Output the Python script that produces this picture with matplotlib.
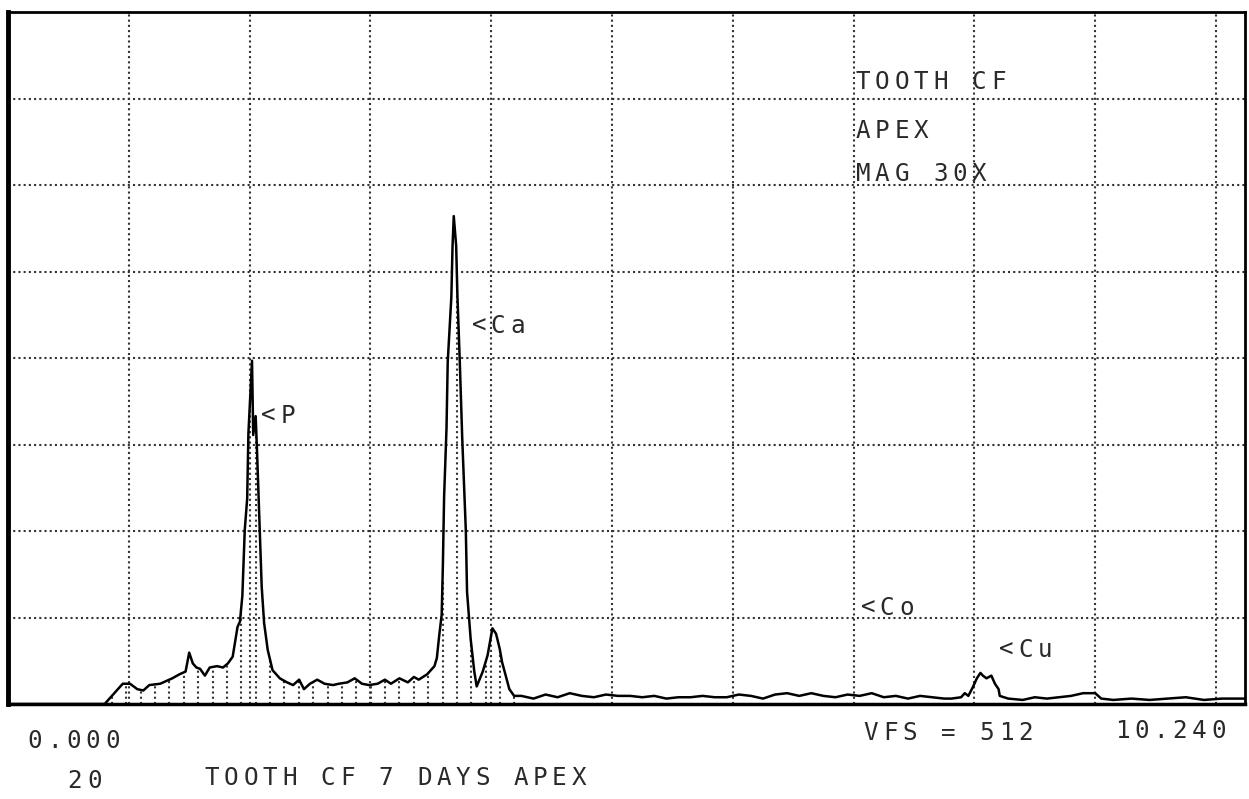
import numpy as np
import matplotlib
matplotlib.use('Agg')
import matplotlib.pyplot as plt
import matplotlib.transforms as mtransforms

# EDS spectrum (energy in keV, counts)
energy_kev = [
    0.00, 0.80, 0.82, 0.88, 0.95, 1.01, 1.07, 1.12, 1.17, 1.26, 1.31, 1.36, 1.42, 1.47,
    1.50, 1.53, 1.56, 1.59, 1.63, 1.67, 1.73, 1.78, 1.82, 1.86, 1.90, 1.92,
    1.94, 1.96, 1.98, 1.99, 2.02, 2.03, 2.05, 2.06, 2.08, 2.10, 2.12, 2.15, 2.19, 2.25,
    2.31, 2.36, 2.41, 2.45, 2.50, 2.56, 2.62, 2.69, 2.74, 2.81, 2.87, 2.93, 2.99, 3.06,
    3.12, 3.17, 3.24, 3.31, 3.36, 3.40, 3.47, 3.51,
    3.53, 3.55, 3.57, 3.59, 3.60, 3.61, 3.63, 3.64, 3.67, 3.68, 3.69, 3.71, 3.72, 3.74,
    3.76, 3.79, 3.80, 3.83, 3.86, 3.88, 3.93, 3.97, 4.01, 4.04, 4.07, 4.09, 4.12, 4.15,
    4.19, 4.25, 4.35, 4.45, 4.55, 4.65, 4.75, 4.85, 4.95, 5.05, 5.15, 5.25, 5.35, 5.45,
    5.55, 5.65, 5.75, 5.85, 5.95, 6.05, 6.15, 6.25, 6.35, 6.45, 6.55, 6.65, 6.75, 6.85,
    6.95, 7.05, 7.15, 7.25, 7.35, 7.45, 7.55, 7.65, 7.75, 7.81, 7.89, 7.92, 7.95, 7.99,
    8.02, 8.05, 8.07, 8.10, 8.14, 8.17, 8.20, 8.21, 8.28, 8.40, 8.50, 8.60, 8.70, 8.80,
    8.90, 9.00, 9.05, 9.15, 9.30, 9.45, 9.60, 9.75, 9.90, 10.05, 10.24,
]
counts = [
    0, 0, 2, 8, 15, 15, 11, 10, 14, 15, 17, 19, 22, 24,
    38, 30, 27, 26, 21, 27, 28, 27, 30, 35, 57, 61,
    80, 129, 152, 200, 254, 199, 213, 191, 139, 87, 60, 40, 25, 19,
    16, 14, 18, 11, 15, 18, 15, 14, 15, 16, 19, 15, 14, 15,
    18, 15, 19, 16, 20, 18, 22, 26,
    28, 34, 51, 66, 103, 153, 204, 253, 301, 339, 361, 339, 303, 253,
    197, 128, 83, 48, 24, 13, 24, 36, 56, 52, 41, 31, 21, 11,
    6, 6, 4, 7, 5, 8, 6, 5, 7, 6, 6, 5, 6, 4,
    5, 5, 6, 5, 5, 7, 6, 4, 7, 8, 6, 8, 6, 5,
    7, 6, 8, 5, 6, 4, 6, 5, 4, 4, 5, 8, 6, 13,
    19, 23, 21, 19, 21, 15, 11, 6, 4, 3, 5, 4, 5, 6,
    8, 8, 4, 3, 4, 3, 4, 5, 3, 4, 4,
]

# peak markers: (label, energy, counts)
peak_labels = ['<P', '<Ca', '<Co', '<Cu']
peak_x = [2.10, 3.84, 7.06, 8.21]
peak_y = [213, 280, 71, 40]

header_lines = ['TOOTH CF', 'APEX', 'MAG 30X']
header_y = [460, 424, 392]

full_scale = 512
e_max = 10.24

PITCH = 19.3  # plotter character pitch in pixels
FONT = 'DejaVu Sans Mono'
INK = '#2a2a2a'
DOTS = (0, (1, 1.5))

fig = plt.figure(figsize=(12.49, 7.99), dpi=100)
ax = fig.add_axes([8 / 1249, 95 / 799, 1237 / 1249, 692 / 799])
ax.set_xlim(0, e_max)
ax.set_ylim(0, full_scale)

# dotted grid: 1 keV by 64 counts
for gx in np.arange(1, 11):
    ax.axvline(gx, color='#333', lw=1.5, ls=DOTS, zorder=1)
for gy in np.arange(64, full_scale, 64):
    ax.axhline(gy, color='#333', lw=1.5, ls=DOTS, zorder=1)

# dotted hatching under the spectrum (region of interest)
hatch_x = np.arange(0.86, 4.22, 0.119)
hatch_h = np.interp(hatch_x, energy_kev, counts)
ax.vlines(hatch_x, 0, hatch_h, color='#333', lw=1.5, ls=DOTS, zorder=2)

ax.plot(energy_kev, counts, color='black', lw=1.8, zorder=3, clip_on=False)

ax.set_xticks([])
ax.set_yticks([])
for side, sp in ax.spines.items():
    sp.set_linewidth(2.0)
    sp.set_color('black')
ax.spines['left'].set_linewidth(3.5)
ax.spines['bottom'].set_linewidth(2.5)


def plotter_text(x, y, s, transform):
    # fixed-pitch lettering like the plotter output
    for i, ch in enumerate(s):
        tr = mtransforms.offset_copy(transform, fig=fig, x=7 + i * PITCH, y=0, units='dots')
        fig.text(x, y, ch, transform=tr, ha='center', va='center',
                 family=FONT, fontsize=17.5, color=INK)


for lab, px, py in zip(peak_labels, peak_x, peak_y):
    plotter_text(px, py, lab, ax.transData)

for line, hy in zip(header_lines, header_y):
    plotter_text(7.02, hy, line, ax.transData)

# captions below the plot (figure pixel positions)
def fig_px(x, y):
    return x / 1249, 1 - y / 799

plotter_text(*fig_px(28, 741), '0.000', fig.transFigure)
plotter_text(*fig_px(864, 733), 'VFS = 512', fig.transFigure)
plotter_text(*fig_px(1115, 731), '10.240', fig.transFigure)
plotter_text(*fig_px(68, 781), '20', fig.transFigure)
plotter_text(*fig_px(205, 778), 'TOOTH CF 7 DAYS APEX', fig.transFigure)

fig.savefig('out.png', dpi=100, facecolor='white')
